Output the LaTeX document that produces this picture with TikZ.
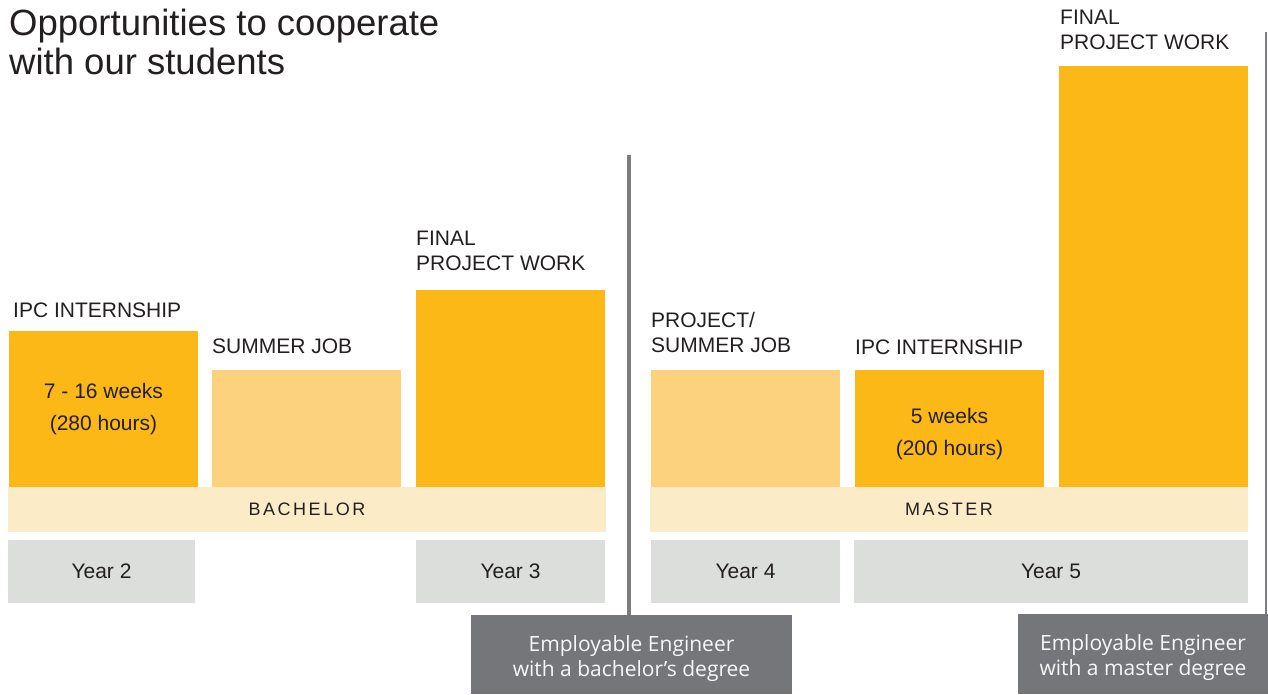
\documentclass[tikz,border=0pt]{standalone}
\usepackage{fontspec}
\setmainfont{Liberation Sans}
\newfontfamily\boxfont{Open Sans}
\newfontfamily\spacedfont[LetterSpace=14]{Liberation Sans}
\definecolor{darkyel}{HTML}{FBB817}
\definecolor{lightyel}{HTML}{FDD27C}
\definecolor{bandyel}{HTML}{FBEBC6}
\definecolor{yeargray}{HTML}{DCDEDB}
\definecolor{boxgray}{HTML}{75767A}
\definecolor{linegray}{HTML}{7B7C80}
\definecolor{ink}{HTML}{231F20}
\begin{document}
\begin{tikzpicture}[x=1pt,y=-1pt,
  blk/.style={inner sep=0pt, outer sep=0pt, anchor=north west, text=ink},
  darkbar/.style={blk, fill=darkyel, align=center, font=\fontsize{21}{32}\selectfont},
  lightbar/.style={blk, fill=lightyel},
  band/.style={blk, fill=bandyel, minimum height=45pt, font=\spacedfont\fontsize{18}{20}\selectfont},
  yearbox/.style={blk, fill=yeargray, minimum height=63pt, font=\fontsize{21}{24}\selectfont},
  outbox/.style={blk, fill=boxgray, text=white!97!black, align=center, font=\boxfont\fontsize{21}{25}\selectfont},
  lbl/.style={inner sep=0pt, anchor=base west, align=left, text=ink, font=\fontsize{21}{25}\selectfont},
  divider/.style={draw=linegray}
]
\useasboundingbox (0,0) rectangle (1268,694);

% title (anchor at baseline of last line)
\node[lbl, font=\fontsize{36.5}{39}\selectfont] (title) at (9,74) {Opportunities to cooperate\\with our students};

% bars
\node[darkbar, minimum width=189pt, minimum height=156pt] (ipc1) at (9,331) {7 - 16 weeks\\(280 hours)};
\node[lightbar, minimum width=189pt, minimum height=117pt] (sum1) at (212,370) {};
\node[darkbar, minimum width=189pt, minimum height=197pt] (fin1) at (416,290) {};
\node[lightbar, minimum width=189pt, minimum height=117pt] (sum2) at (651,370) {};
\node[darkbar, minimum width=189pt, minimum height=117pt] (ipc2) at (855,370) {\\[-6pt]5 weeks\\(200 hours)};
\node[darkbar, minimum width=189pt, minimum height=421pt] (fin2) at (1059,66) {};

% labels
\node[lbl] (lipc1) at (13,317) {IPC INTERNSHIP};
\node[lbl] (lsum1) at (212,353) {SUMMER JOB};
\node[lbl] (lfin1) at (416,270) {FINAL\\PROJECT WORK};
\node[lbl] (lsum2) at (651,352) {PROJECT/\\SUMMER JOB};
\node[lbl] (lipc2) at (855,354) {IPC INTERNSHIP};
\node[lbl] (lfin2) at (1060,49) {FINAL\\PROJECT WORK};

% bands
\node[band, minimum width=598pt] (bach) at (8,487) {BACHELOR};
\node[band, minimum width=598pt] (mast) at (650,487) {MASTER};

% years
\node[yearbox, minimum width=187pt] (y2) at (8,540) {Year 2};
\node[yearbox, minimum width=189pt] (y3) at (416,540) {Year 3};
\node[yearbox, minimum width=189pt] (y4) at (651,540) {Year 4};
\node[yearbox, minimum width=394pt] (y5) at (854,540) {Year 5};

% outcome boxes
\node[outbox, minimum width=321pt, minimum height=79pt] (eb) at (471,615) {\rule{0pt}{24pt}Employable Engineer\\with a bachelor’s degree};
\node[outbox, minimum width=250pt, minimum height=80pt] (em) at (1018,614) {\rule{0pt}{24pt}Employable Engineer\\with a master degree};

% dividers
\coordinate (d1) at (629,155);
\coordinate (d2) at (1266,32);
\draw[divider, line width=4pt] (d1) -- (d1 |- eb.north);
\draw[divider, line width=2pt] (d2) -- (d2 |- em.north);
\end{tikzpicture}
\end{document}
